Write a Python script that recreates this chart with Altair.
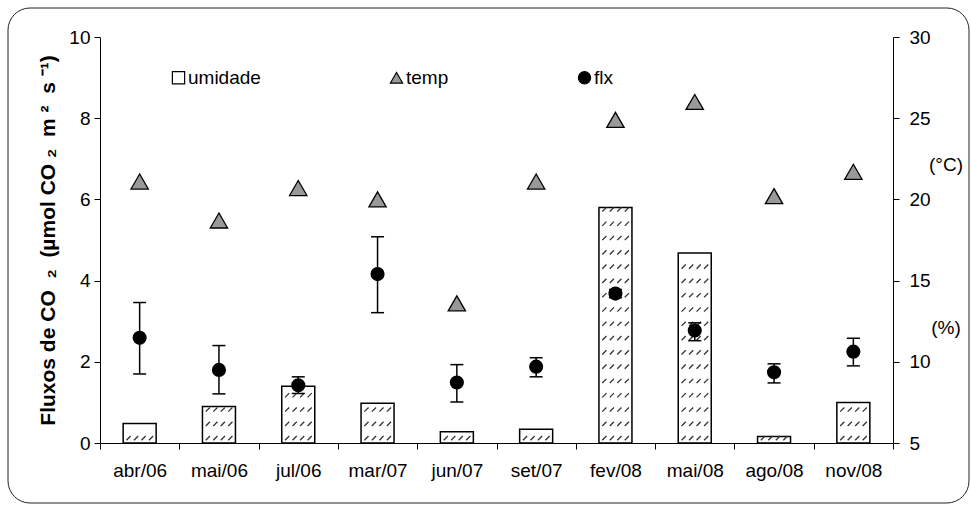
import altair as alt
import pandas as pd

# ---------------- data ----------------
categories = ["abr/06", "mai/06", "jul/06", "mar/07", "jun/07",
              "set/07", "fev/08", "mai/08", "ago/08", "nov/08"]
umidade = [6.2, 7.25, 8.5, 7.45, 5.7, 5.85, 19.5, 16.7, 5.4, 7.5]      # (%)
temp = [21.1, 18.7, 20.7, 20.0, 13.6, 21.1, 24.9, 26.0, 20.2, 21.7]    # (°C)
flx = [2.59, 1.80, 1.42, 4.16, 1.49, 1.88, 3.68, 2.77, 1.74, 2.25]
flx_hi = [3.46, 2.40, 1.63, 5.08, 1.93, 2.10, 3.78, 2.96, 1.95, 2.58]
flx_lo = [1.70, 1.21, 1.22, 3.21, 1.01, 1.63, 3.58, 2.52, 1.48, 1.90]
series_names = ["umidade", "temp", "flx"]
left_ticks = [0, 2, 4, 6, 8, 10]
right_ticks = [5, 10, 15, 20, 25, 30]
unit_labels = ["(°C)", "(%)"]
unit_label_pos = [22.1, 12.1]

FONT = "Liberation Sans"
W, H = 793, 406
S = "\u00a0"
Y_TITLE = ("Fluxos de CO" + S * 2 + "₂" + S * 2 + "(µmol CO" + S + "₂"
           + S * 2 + "m" + S + "²" + S * 2 + "s" + S + "⁻¹" + ")")

df = pd.DataFrame({"cat": categories, "umidade": umidade, "temp": temp,
                   "flx": flx, "hi": flx_hi, "lo": flx_lo, "serie": "temp"})

# hatch rows inside the humidity bars (decoration derived from the bar values)
hatch_cat, hatch_r = [], []
for c, h in zip(categories, umidade):
    k = 0
    while True:
        r = 5.3 + k * 0.88
        if r > h - 0.05:
            break
        hatch_cat.append(c)
        hatch_r.append(round(r, 3))
        k += 1
hatch_df = pd.DataFrame({"cat": hatch_cat, "r": hatch_r})

HATCH = ("M-0.88,0.14L-0.6,-0.14M-0.38,0.14L-0.1,-0.14"
         "M0.12,0.14L0.4,-0.14M0.62,0.14L0.9,-0.14")

xenc = alt.X("cat:N", sort=categories,
             scale=alt.Scale(paddingInner=0, paddingOuter=0),
             axis=alt.Axis(title=None, tickBand="extent", labelAngle=0,
                           labelFontSize=19, labelPadding=12, tickSize=6,
                           labelColor="black", domainColor="black",
                           tickColor="black", labelFont=FONT))

rscale = alt.Scale(domain=[5, 30], nice=False, zero=False)
lscale = alt.Scale(domain=[0, 10], nice=False, zero=False)

base = alt.Chart(df).encode(x=xenc)

frame = alt.Chart(pd.DataFrame({"a": [0]})).mark_rect(
    cornerRadius=22, fillOpacity=0, stroke="#222", strokeWidth=1
).encode(x=alt.value(-92), x2=alt.value(W + 76),
         y=alt.value(-29), y2=alt.value(H + 60))

# ---- right-scale group: humidity bars, hatch, temperature ----
bars = base.mark_bar(size=33, fill="white", stroke="black", strokeWidth=1.5).encode(
    y=alt.Y("umidade:Q", scale=rscale,
            axis=alt.Axis(orient="right", values=right_ticks, title=None,
                          labelFontSize=19, labelPadding=10, tickSize=6,
                          labelColor="black", domainColor="black",
                          tickColor="black", grid=False, labelFont=FONT)),
    y2=alt.datum(5),
)

hatch = alt.Chart(hatch_df).mark_point(
    shape=HATCH, size=900, filled=False, stroke="#333", strokeWidth=1.3,
    opacity=1, strokeOpacity=1
).encode(x=alt.X("cat:N", sort=categories), y=alt.Y("r:Q"))

legend = alt.Legend(title=None, orient="none", legendX=69, legendY=31,
                    direction="horizontal", columnPadding=126,
                    labelFontSize=19, labelColor="black", labelFont=FONT,
                    symbolSize=150, symbolStrokeColor="black",
                    symbolStrokeWidth=1.2, labelOffset=0, symbolOpacity=1)

tri = base.mark_point(filled=True, size=300, strokeWidth=1.3, opacity=1).encode(
    y=alt.Y("temp:Q"),
    shape=alt.Shape("serie:N", scale=alt.Scale(domain=series_names,
                    range=["square", "triangle-up", "circle"]), legend=legend),
    fill=alt.Fill("serie:N", scale=alt.Scale(domain=series_names,
                  range=["white", "#999999", "black"]), legend=legend),
    stroke=alt.Stroke("serie:N", scale=alt.Scale(domain=series_names,
                      range=["black", "black", "black"]), legend=legend),
)

units = alt.Chart(pd.DataFrame({"t": unit_labels, "v": unit_label_pos})).mark_text(
    fontSize=19, font=FONT, color="black", align="center", baseline="middle"
).encode(x=alt.value(W + 53), y=alt.Y("v:Q"), text="t:N")

right_group = alt.layer(bars, hatch, tri, units)

# ---- left-scale group: CO2 flux with error bars ----
err = base.mark_rule(color="black", strokeWidth=1.5).encode(
    y=alt.Y("hi:Q", scale=lscale,
            axis=alt.Axis(orient="left", values=left_ticks,
                          title=Y_TITLE,
                          titleFontSize=21, titleFontWeight="bold",
                          titleFont=FONT, titleColor="black", titlePadding=10,
                          labelFontSize=19, labelPadding=4, tickSize=6,
                          labelColor="black", domainColor="black",
                          tickColor="black", grid=False, labelFont=FONT)),
    y2="lo:Q",
)
cap_hi = base.mark_tick(orient="horizontal", size=13, thickness=1.5,
                        color="black", opacity=1).encode(y=alt.Y("hi:Q"))
cap_lo = base.mark_tick(orient="horizontal", size=13, thickness=1.5,
                        color="black", opacity=1).encode(y=alt.Y("lo:Q"))
pts = base.mark_circle(size=200, color="black", opacity=1).encode(y=alt.Y("flx:Q"))

left_group = alt.layer(err, cap_hi, cap_lo, pts)

chart = alt.layer(frame, right_group, left_group).resolve_scale(
    y="independent"
).properties(
    width=W, height=H,
    padding={"left": 100, "top": 37, "right": 78, "bottom": 65},
    autosize=alt.AutoSizeParams(type="none"),
).configure(font=FONT).configure_view(stroke=None)

chart.save("out.html", embed_options={"renderer": "svg", "actions": False})
